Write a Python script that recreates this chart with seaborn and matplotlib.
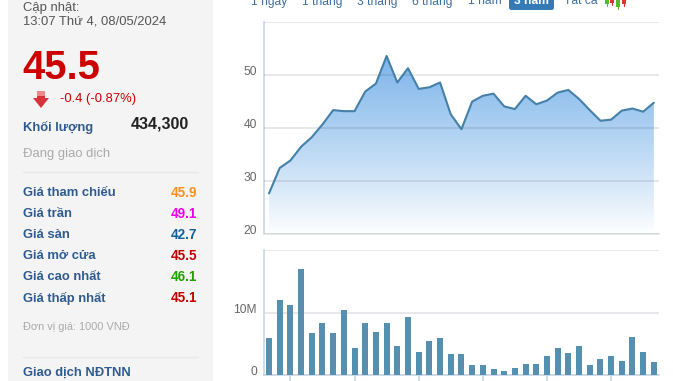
import numpy as np
import pandas as pd
import seaborn as sns
import matplotlib.pyplot as plt
from matplotlib.patches import Rectangle, Polygon, FancyBboxPatch

# Gia dong cua va khoi luong (trieu cp), doc tu hinh
price = [27.7, 32.5, 33.9, 36.5, 38.3, 40.7, 43.4, 43.2, 43.2, 46.9, 48.4, 53.6, 48.6,
         51.3, 47.4, 47.7, 48.6, 42.6, 39.8, 45.0, 46.1, 46.5, 44.1, 43.6, 46.1, 44.5,
         45.2, 46.7, 47.2, 45.5, 43.4, 41.4, 41.6, 43.3, 43.7, 43.1, 44.8]
volume = [6.0, 12.0, 11.2, 17.0, 6.8, 8.4, 6.7, 10.5, 4.4, 8.4, 7.0, 8.4, 4.7, 9.4, 3.8,
          5.5, 5.9, 3.4, 3.4, 1.7, 1.7, 1.0, 0.7, 1.2, 1.8, 1.8, 3.1, 4.4, 3.6, 4.7, 1.7,
          2.6, 3.1, 2.3, 6.2, 3.8, 2.2]
tabs = ["1 ngày", "1 tháng", "3 tháng", "6 tháng", "1 năm", "3 năm", "Tất cả"]
info_labels = ["Giá tham chiếu", "Giá trần", "Giá sàn", "Giá mở cửa", "Giá cao nhất", "Giá thấp nhất"]
info_values = ["45.9", "49.1", "42.7", "45.5", "46.1", "45.1"]
info_colors = ["#ff9020", "#ee00ee", "#11609a", "#c00000", "#1fa000", "#c00000"]

df = pd.DataFrame({"i": range(len(price)), "price": price, "volume": volume})

sns.set_theme(style="white")
plt.rcParams['font.family'] = ['Liberation Sans', 'DejaVu Sans']

W, H = 673, 381
fig = plt.figure(figsize=(W / 100, H / 100), dpi=100, facecolor="white")


def px_axes(x0, y0, x1, y1, **kw):
    return fig.add_axes([x0 / W, 1 - y1 / H, (x1 - x0) / W, (y1 - y0) / H], **kw)


def pt(px):
    return px * 0.72


spine_c = "#c8d4e8"
xlim = (-0.47, 36.48)

# bieu do gia
ax = px_axes(264, 22, 659, 234.3)
sns.lineplot(data=df, x="i", y="price", ax=ax, color="#4480a8", lw=1.5, zorder=5)
fill = ax.fill_between(df["i"], price, 20, color="none", zorder=2)
grad = np.linspace(0, 1, 256).reshape(-1, 1)
rgba = np.ones((256, 1, 4))
rgba[..., 0] = 0.44
rgba[..., 1] = 0.68
rgba[..., 2] = 0.91
rgba[..., 3] = 0.92 * (1 - grad) ** 0.9
img = ax.imshow(rgba, extent=[0, len(price) - 1, 20, 53.6], aspect="auto", zorder=2, origin="upper")
img.set_clip_path(fill.get_paths()[0], transform=ax.transData)
ax.set_xlim(xlim)
ax.set_ylim(20, 60)
ax.set_yticks([20, 30, 40, 50, 60])
ax.set_yticklabels(["20", "30", "40", "50", ""], fontsize=pt(12), color="#666666", va="baseline")
ax.set_xticks([])
ax.set_xlabel("")
ax.set_ylabel("")
ax.grid(axis="y", color="#1a2640", alpha=0.12, lw=1.2, zorder=3)
ax.set_axisbelow(False)
ax.tick_params(axis="y", length=0, pad=5)

# bieu do khoi luong
ax2 = px_axes(264, 250.3, 659, 375.3)
sns.barplot(data=df, x="i", y="volume", ax=ax2, color="#5590b0", saturation=1, width=0.56,
            linewidth=0, zorder=3)
ax2.set_xlim(xlim)
ax2.set_ylim(0, 20)
ax2.set_yticks([0, 10, 20])
ax2.set_yticklabels(["0", "10M", ""], fontsize=pt(12), color="#666666", va="baseline")
ax2.set_xticks([2, 8, 14, 20, 26, 32])
ax2.set_xticklabels([])
ax2.set_xlabel("")
ax2.set_ylabel("")
ax2.grid(axis="y", color="#1a2640", alpha=0.12, lw=1.2, zorder=1)
ax2.set_axisbelow(True)
ax2.tick_params(axis="y", length=0, pad=5)
ax2.tick_params(axis="x", length=4, width=1.2, color=spine_c, bottom=True)

for a in (ax, ax2):
    sns.despine(ax=a, right=True, top=True)
    a.spines["left"].set_color(spine_c)
    a.spines["left"].set_linewidth(1.2)
    a.spines["bottom"].set_color("#e4e6e8" if a is ax else spine_c)
    a.spines["bottom"].set_linewidth(1.2)
    a.patch.set_alpha(0)

# lop phu: cot thong tin ben trai va thanh tab
ov = fig.add_axes([0, 0, 1, 1], zorder=-1)
ov.set_xlim(0, W)
ov.set_ylim(H, 0)
ov.axis("off")
ov.add_patch(Rectangle((8, 0), 205, H, color="#f4f4f4", lw=0))

top = fig.add_axes([0, 0, 1, 1], zorder=5)
top.set_xlim(0, W)
top.set_ylim(H, 0)
top.axis("off")
top.patch.set_alpha(0)


def txt(x, y, s, size, color, weight="normal", ha="left"):
    top.text(x, y, s, fontsize=pt(size), color=color, fontweight=weight, ha=ha, va="center")


blue = "#2f5a8f"
txt(23, 8, "Cập nhật:", 13, "#555555")
txt(23, 22, "13:07 Thứ 4, 08/05/2024", 13, "#555555")
txt(22, 68, "45.5", 40, "#cc0000", "bold")
txt(60, 99, "-0.4 (-0.87%)", 13, "#cc0000")
txt(23, 127, "Khối lượng", 13, blue, "bold")
txt(131, 124, "434,300", 16, "#222222", "bold")
txt(23, 154, "Đang giao dịch", 13, "#aaaaaa")
top.plot([23, 198], [171.5, 171.5], color="#e8e8e8", lw=1)
for k, (lab, val, col) in enumerate(zip(info_labels, info_values, info_colors)):
    y = 193 + k * 21
    txt(23, y, lab, 13, blue, "bold")
    txt(197, y, val, 13.5, col, "bold", ha="right")
txt(23, 327, "Đơn vị giá: 1000 VNĐ", 11, "#aaaaaa")
top.plot([23, 198], [356.5, 356.5], color="#e8e8e8", lw=1)
txt(23, 373, "Giao dịch NĐTNN", 13, blue, "bold")

# mui ten giam
top.add_patch(Polygon([[37, 91], [45, 91], [45, 98], [49, 98], [41, 108], [33, 98], [37, 98]],
                      closed=True, color="#d6333a", lw=0))
top.add_patch(Rectangle((37, 91), 8, 5, color="#ee8a8a", lw=0))

# tabs
top.add_patch(FancyBboxPatch((509, -6), 45, 16, boxstyle="round,pad=0,rounding_size=2.5",
                             color="#337ab7", lw=0))
tab_x = [251, 302, 357, 412, 468, 531, 564]
for s, x in zip(tabs, tab_x):
    if s == "3 năm":
        top.text(x, 1.5, s, fontsize=pt(12), color="white", fontweight="bold", ha="center", va="center")
    else:
        top.text(x, 1.5, s, fontsize=pt(12), color="#3f6f9f", ha="left", va="center")

# icon nen
for x, y1, c in [(607, 4, "#55bb22"), (612, 3, "#dd3333"), (618, 7, "#55bb22"), (624, 4, "#dd3333")]:
    top.add_patch(Rectangle((x - 2, 0), 4, y1, color=c, lw=0))
    top.plot([x, x], [0, y1 + 2], color=c, lw=0.8)

fig.savefig("out.png", dpi=100)
